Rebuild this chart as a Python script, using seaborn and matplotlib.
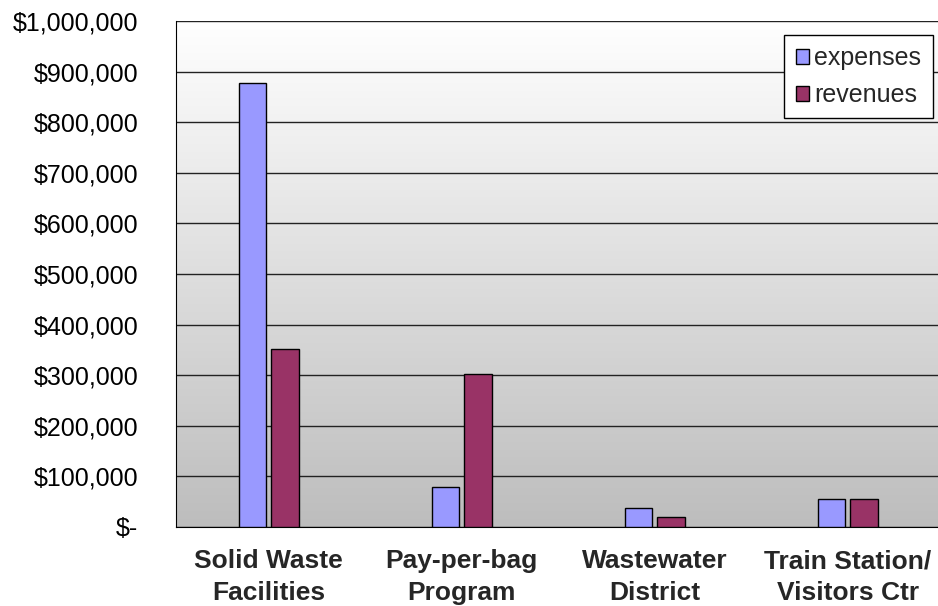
import numpy as np
import pandas as pd
import matplotlib
matplotlib.use("Agg")
import matplotlib.pyplot as plt
from matplotlib.ticker import FuncFormatter, FixedLocator, MultipleLocator
import seaborn as sns

categories = ["Solid Waste\nFacilities", "Pay-per-bag\nProgram", "Wastewater\nDistrict", "Train Station/\nVisitors Ctr"]
expenses = [877000, 79000, 38000, 56000]
revenues = [352000, 302000, 20000, 56000]
series = ["expenses", "revenues"]

df = pd.DataFrame({
    "category": categories * 2,
    "value": expenses + revenues,
    "series": ["expenses"] * len(categories) + ["revenues"] * len(categories),
})

sns.set_style("white")
plt.rcParams["font.family"] = ["Liberation Sans", "DejaVu Sans"]

fig = plt.figure(figsize=(9.38, 6.06), dpi=100)
ax = fig.add_axes([176 / 938, 1 - 527 / 606, 772 / 938, 506 / 606])

# gradient background, white at top to grey at bottom
grad = np.linspace(0, 1, 256).reshape(-1, 1)
cmap = matplotlib.colors.LinearSegmentedColormap.from_list("bg", ["#bdbdbd", "#ffffff"])
ax.imshow(grad, aspect="auto", cmap=cmap, origin="lower",
          extent=[0, 1, 0, 1], transform=ax.transAxes, zorder=0)

sns.barplot(data=df, x="category", y="value", hue="series", hue_order=series,
            palette={"expenses": "#9999ff", "revenues": "#993366"},
            width=0.34, gap=0.17, edgecolor="black", linewidth=1,
            saturation=1, ax=ax, zorder=3)

ax.set_xlim(-0.48, len(categories) - 0.48)
ax.set_ylim(0, 1000000)
ax.yaxis.set_major_locator(MultipleLocator(100000))
ax.yaxis.set_major_formatter(FuncFormatter(lambda v, p: "$-" if v == 0 else f"${v:,.0f}"))
ax.grid(axis="y", color="#222222", linewidth=1, zorder=1)
ax.set_axisbelow(True)

ax.tick_params(axis="y", labelsize=18, length=10, direction="inout", width=1, colors="black", pad=22)
ax.tick_params(axis="x", which="major", length=0, labelsize=19, pad=16)
ax.xaxis.set_minor_locator(FixedLocator(np.arange(-0.5, len(categories), 1.0)))
ax.tick_params(axis="x", which="minor", length=7, width=1, direction="out", colors="black")
for lbl in ax.get_xticklabels():
    lbl.set_fontweight("bold")
    lbl.set_linespacing(1.4)

ax.set_xlabel("")
ax.set_ylabel("")
for side in ["top", "right"]:
    ax.spines[side].set_visible(False)
ax.spines["left"].set_color("black")
ax.spines["bottom"].set_color("black")

leg = ax.legend(loc="upper right", bbox_to_anchor=(0.98, 0.972), borderaxespad=0,
                fontsize=18, handlelength=0.55, handleheight=0.55, handletextpad=0.2,
                labelspacing=0.5, borderpad=0.45, fancybox=False, framealpha=1,
                edgecolor="black", facecolor="white", title=None)
leg.get_frame().set_linewidth(1)

fig.savefig("out.png", dpi=100)
